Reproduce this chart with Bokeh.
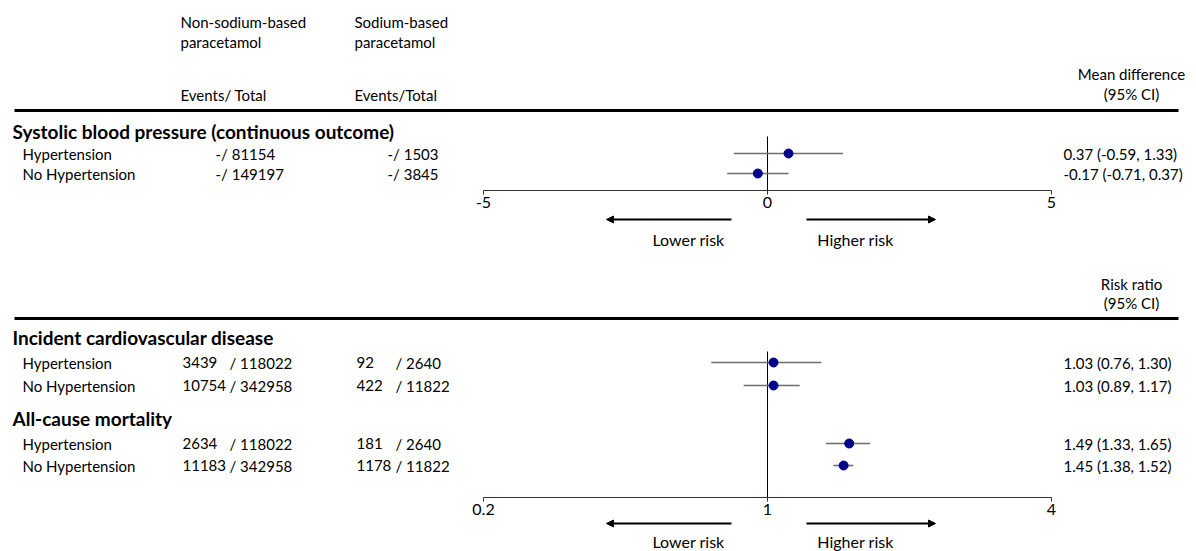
import math
from bokeh.plotting import figure
from bokeh.models import (Range1d, LinearAxis, LogAxis, LogScale, FixedTicker,
                          Arrow, NormalHead)
from bokeh.core.properties import value
from bokeh.embed import file_html
from bokeh.resources import INLINE

# ---------------- data ----------------
md_subgroups = ["Hypertension", "No Hypertension"]
md_nonsodium_total = [81154, 149197]
md_sodium_total = [1503, 3845]
md_est = [0.37, -0.17]
md_lo = [-0.59, -0.71]
md_hi = [1.33, 0.37]

rr_outcomes = ["Incident cardiovascular disease", "All-cause mortality"]
rr_subgroups = ["Hypertension", "No Hypertension", "Hypertension", "No Hypertension"]
rr_nonsodium_events = [3439, 10754, 2634, 11183]
rr_nonsodium_total = [118022, 342958, 118022, 342958]
rr_sodium_events = [92, 422, 181, 1178]
rr_sodium_total = [2640, 11822, 2640, 11822]
rr_est = [1.03, 1.03, 1.49, 1.45]
rr_lo = [0.76, 0.89, 1.33, 1.38]
rr_hi = [1.30, 1.17, 1.65, 1.52]

md_ticks = [-5, 0, 5]
md_tick_labels = ["-5", "0", "5"]
rr_ticks = [0.25, 1, 4]
rr_tick_labels = ["0.2", "1", "4"]

# ---------------- layout ----------------
W, H = 1196, 551
X0PX = 767.0           # pixel of the null value
HALF = 284.0           # pixels from null to axis end
md_k = HALF / 5.0
rr_k = HALF / math.log(4.0)
md_range = Range1d(-X0PX / md_k, (W - X0PX) / md_k)
rr_range = Range1d(math.exp(-X0PX / rr_k), math.exp((W - X0PX) / rr_k))

FONT = value("Lato")
BASE = "15px"

p = figure(width=W, height=H, x_range=md_range, y_range=Range1d(H, 0),
           x_axis_type=None, y_axis_type=None, toolbar_location=None,
           output_backend="svg", min_border=0, outline_line_color=None)
p.extra_x_ranges = {"px": Range1d(0, W), "rr": rr_range}
p.extra_x_scales = {"rr": LogScale()}


def txt(x, y, t, size=BASE, align="left", bold=False):
    p.text(x=x, y=y, text=t, x_range_name="px", text_font=FONT,
           text_font_size=size, text_align=align, text_baseline="middle",
           text_color="#000000", text_font_style="bold" if bold else "normal")


# column headers
txt([180, 180], [21, 41], ["Non-sodium-based", "paracetamol"])
txt([354, 354], [21, 41], ["Sodium-based", "paracetamol"])
txt([180], [94], ["Events/ Total"])
txt([354], [94], ["Events/Total"])
txt([1131, 1131], [73, 93], ["Mean difference", "(95% CI)"], align="center")
txt([1131, 1131], [283, 302], ["Risk ratio", "(95% CI)"], align="center")

# thick separators
p.segment(x0=[14, 14], y0=[110, 318], x1=[1178, 1178], y1=[110, 318],
          x_range_name="px", line_color="#000000", line_width=3)

# ---------- top panel: mean difference ----------
md_y = [153, 173]
txt([12], [131], ["Systolic blood pressure (continuous outcome)"], size="19px", bold=True)
txt([22] * 2, md_y, md_subgroups)
txt([215] * 2, md_y, ["-/ %d" % v for v in md_nonsodium_total])
txt([438] * 2, md_y, ["-/ %d" % v for v in md_sodium_total], align="right")
txt([1063] * 2, md_y, ["%.2f (%.2f, %.2f)" % (e, l, h) for e, l, h in zip(md_est, md_lo, md_hi)])

p.segment(x0=[0], y0=[136], x1=[0], y1=[190], line_color="#000000", line_width=1)
p.segment(x0=md_lo, y0=md_y, x1=md_hi, y1=md_y, line_color="#6e6e6e", line_width=1.6)
p.scatter(x=md_est, y=md_y, size=9, fill_color="#00008b", line_color="#00008b")

md_axis = LinearAxis(fixed_location=190, bounds=(-5, 5),
                     ticker=FixedTicker(ticks=md_ticks),
                     major_label_overrides={t: l for t, l in zip(md_ticks, md_tick_labels)})
p.add_layout(md_axis, "below")

# ---------- bottom panel: risk ratio ----------
rr_y = [362, 385, 443, 465]
txt([12, 12], [337, 418], rr_outcomes, size="19px", bold=True)
txt([22] * 4, rr_y, rr_subgroups)
txt([182] * 4, rr_y, [str(v) for v in rr_nonsodium_events])
txt([229] * 4, rr_y, ["/ %d" % v for v in rr_nonsodium_total])
txt([356] * 4, rr_y, [str(v) for v in rr_sodium_events])
txt([395] * 4, rr_y, ["/ %d" % v for v in rr_sodium_total])
txt([1063] * 4, rr_y, ["%.2f (%.2f, %.2f)" % (e, l, h) for e, l, h in zip(rr_est, rr_lo, rr_hi)])

p.segment(x0=[1], y0=[351], x1=[1], y1=[497], x_range_name="rr",
          line_color="#000000", line_width=1)
p.segment(x0=rr_lo, y0=rr_y, x1=rr_hi, y1=rr_y, x_range_name="rr",
          line_color="#6e6e6e", line_width=1.6)
p.scatter(x=rr_est, y=rr_y, x_range_name="rr", size=9,
          fill_color="#00008b", line_color="#00008b")

rr_axis = LogAxis(x_range_name="rr", fixed_location=497, bounds=(0.25, 4),
                  ticker=FixedTicker(ticks=rr_ticks),
                  major_label_overrides={t: l for t, l in zip(rr_ticks, rr_tick_labels)})
p.add_layout(rr_axis, "below")

for ax in (md_axis, rr_axis):
    ax.axis_line_color = "#333333"
    ax.axis_line_width = 1
    ax.major_tick_in = 0
    ax.major_tick_out = 4
    ax.major_tick_line_color = "#333333"
    ax.minor_tick_line_color = None
    ax.major_label_text_font = "Lato"
    ax.major_label_text_font_size = "16px"
    ax.major_label_text_color = "#000000"
    ax.major_label_standoff = 2

# direction arrows and labels
for ay, ty in ((219, 239), (523, 541)):
    for xs, xe in ((731, 606), (806, 935)):
        p.add_layout(Arrow(x_start=xs, y_start=ay, x_end=xe, y_end=ay, x_range_name="px",
                           line_width=2, line_color="#000000",
                           end=NormalHead(size=7, fill_color="#000000", line_color="#000000")))
    txt([688, 855], [ty, ty], ["Lower risk", "Higher risk"], size="16px", align="center")

open("out.html", "w").write(file_html(p, INLINE))
